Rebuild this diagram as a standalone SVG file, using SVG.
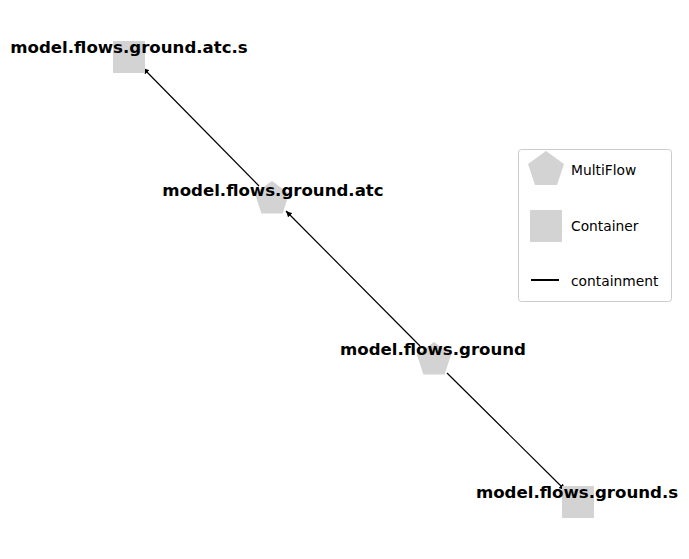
<svg xmlns="http://www.w3.org/2000/svg" width="689" height="559" viewBox="0 0 689 559">
<style>
.node{fill:#d3d3d3;stroke:none}
.lbl{font-family:"DejaVu Sans",sans-serif;font-weight:bold;font-size:16.6px;fill:#000;text-anchor:middle;dominant-baseline:central}
.edge{stroke:#000;stroke-width:1.2;fill:none;marker-end:url(#arr)}
.leg{font-family:"DejaVu Sans",sans-serif;font-size:13.8px;fill:#000;dominant-baseline:central}
</style>
<defs>
<marker id="arr" markerUnits="userSpaceOnUse" markerWidth="8" markerHeight="8" refX="6" refY="3" orient="auto">
<path d="M0,0 L6,3 L0,6 z" fill="#000"/>
</marker>
</defs>
<rect width="689" height="559" fill="#fff"/>
<g id="edges">
<line class="edge" x1="259" y1="186" x2="143" y2="68"/>
<line class="edge" x1="420" y1="346" x2="286" y2="211"/>
<line class="edge" x1="447" y1="373" x2="565" y2="490"/>
</g>
<g id="n_atc_s">
<rect class="node" x="113" y="41" width="32" height="32"/>
<text class="lbl" x="129" y="47">model.flows.ground.atc.s</text>
</g>
<g id="n_atc">
<polygon class="node" points="272,181 289.1,193.4 282.6,213.6 261.4,213.6 254.9,193.4"/>
<text class="lbl" x="273" y="190">model.flows.ground.atc</text>
</g>
<g id="n_ground">
<polygon class="node" points="434,342 451.1,354.4 444.6,374.6 423.4,374.6 416.9,354.4"/>
<text class="lbl" x="433" y="349">model.flows.ground</text>
</g>
<g id="n_ground_s">
<rect class="node" x="562" y="486" width="32" height="32"/>
<text class="lbl" x="577" y="492">model.flows.ground.s</text>
</g>
<g id="legend">
<rect x="518.5" y="149.5" width="153" height="152" rx="3" fill="#fff" fill-opacity="0.8" stroke="#ccc" stroke-width="1"/>
<polygon class="node" points="546,151 564,164 557,185 535,185 528,164"/>
<text class="leg" x="571" y="170">MultiFlow</text>
<rect class="node" x="530" y="210" width="32" height="32"/>
<text class="leg" x="571" y="226">Container</text>
<line x1="531" y1="280" x2="559" y2="280" stroke="#000" stroke-width="2"/>
<text class="leg" x="571" y="281">containment</text>
</g>
</svg>
